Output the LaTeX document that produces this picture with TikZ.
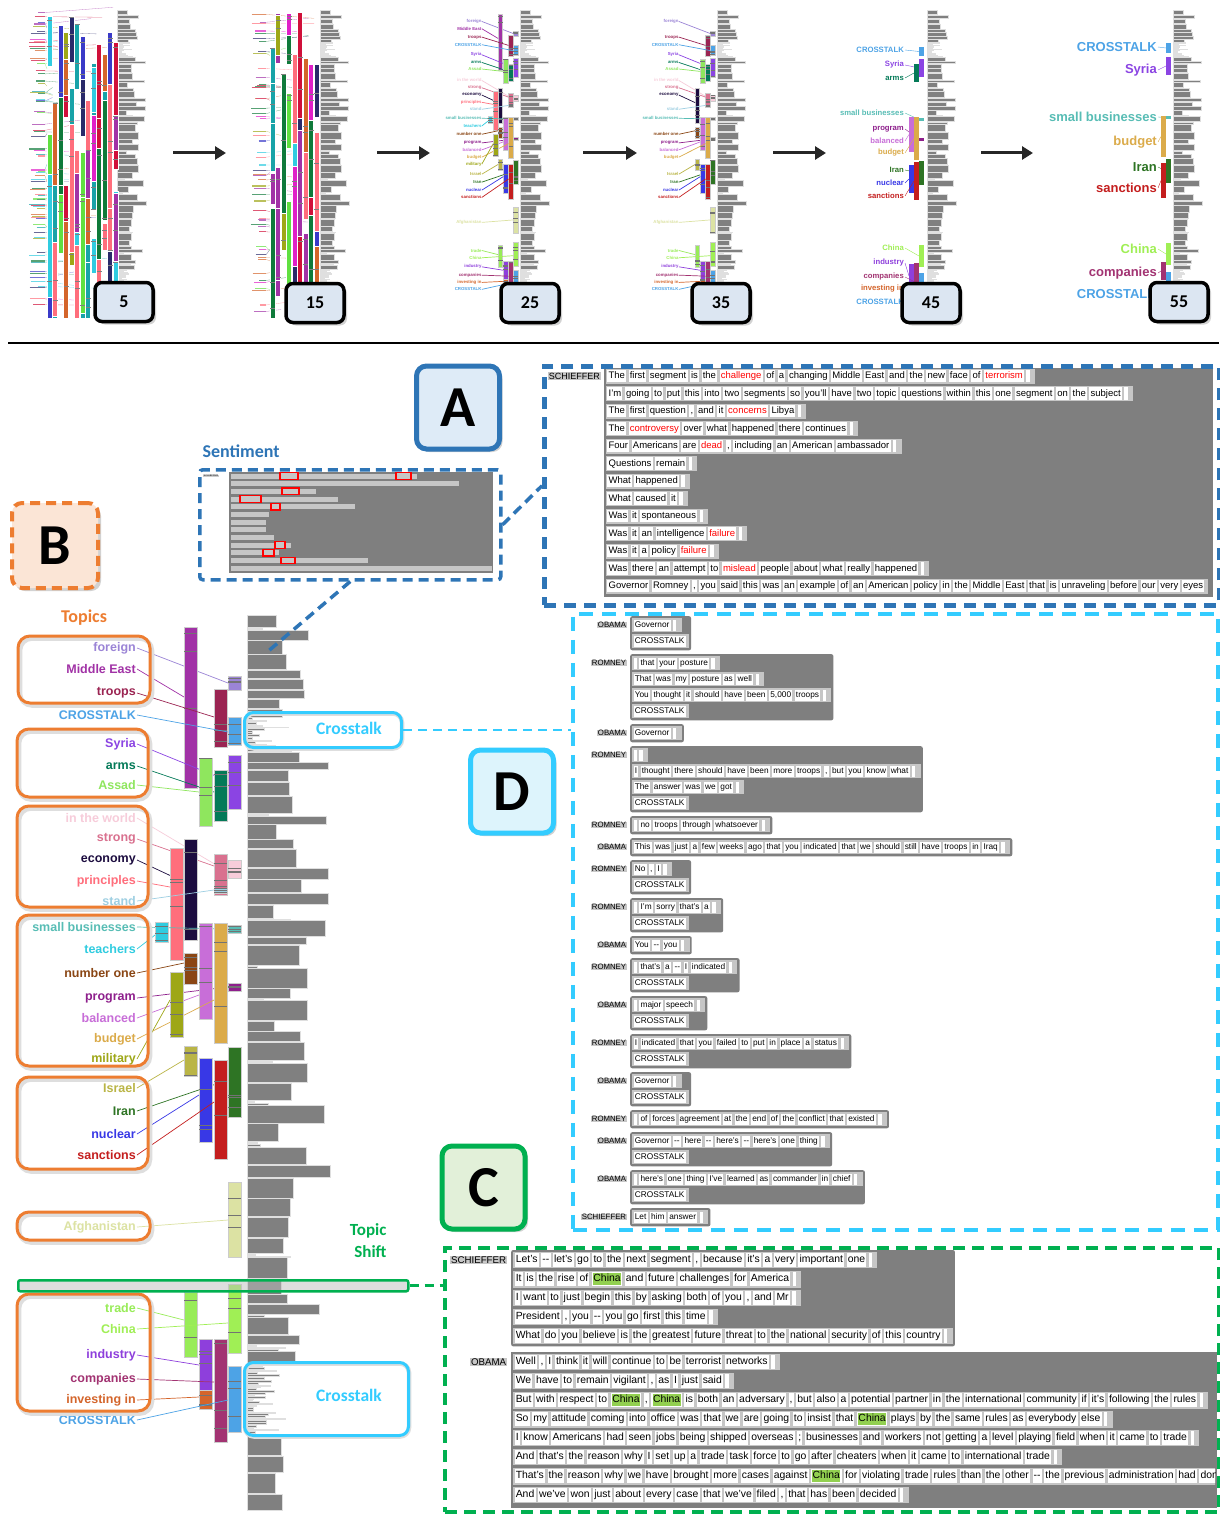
\documentclass[tikz,border=0pt]{standalone}
\usepackage{fontspec}
\setmainfont{Liberation Sans}
\newfontfamily\calfont{Carlito}
\usepackage{tikz}
\usetikzlibrary{arrows.meta,positioning,fit,shapes,shadows}

% topic colours
\definecolor{cforeign}{HTML}{9B84D6}
\definecolor{cmideast}{HTML}{A132A6}
\definecolor{ctroops}{HTML}{9B2452}
\definecolor{ccross}{HTML}{4DA3E6}
\definecolor{csyria}{HTML}{8B44E3}
\definecolor{carms}{HTML}{047A58}
\definecolor{cassad}{HTML}{8FE65E}
\definecolor{cworld}{HTML}{F7CCDA}
\definecolor{cstrong}{HTML}{D9718F}
\definecolor{cecon}{HTML}{1C0C3F}
\definecolor{cprinc}{HTML}{FF6E7C}
\definecolor{cstand}{HTML}{9ECFE2}
\definecolor{csmall}{HTML}{58BDB5}
\definecolor{cteach}{HTML}{30CCE0}
\definecolor{cnumone}{HTML}{8A4614}
\definecolor{cprog}{HTML}{8E1F8C}
\definecolor{cbal}{HTML}{C86ED8}
\definecolor{cbudget}{HTML}{DBAB4A}
\definecolor{cmil}{HTML}{9EA717}
\definecolor{cisrael}{HTML}{BAB546}
\definecolor{ciran}{HTML}{2E7424}
\definecolor{cnuc}{HTML}{3838E6}
\definecolor{csanc}{HTML}{C41E1E}
\definecolor{cafg}{HTML}{DCE2A3}
\definecolor{ctrade}{HTML}{98EC58}
\definecolor{cchina}{HTML}{A0EF55}
\definecolor{cind}{HTML}{8E3FDC}
\definecolor{ccomp}{HTML}{A23372}
\definecolor{cinvest}{HTML}{D4652B}
% palette for the crowded low levels
\definecolor{pal1}{HTML}{A132A6}
\definecolor{pal2}{HTML}{0F7A3A}
\definecolor{pal3}{HTML}{D0103A}
\definecolor{pal4}{HTML}{3A3AC8}
\definecolor{pal5}{HTML}{18A3A8}
\definecolor{pal6}{HTML}{E020C8}
\definecolor{pal7}{HTML}{9EA717}
\definecolor{pal8}{HTML}{2A2A6A}
\definecolor{pal9}{HTML}{D4652B}
\definecolor{pal10}{HTML}{FF6E7C}
\definecolor{pal11}{HTML}{30CCE0}
\definecolor{pal12}{HTML}{60E040}
% frames and fills
\definecolor{turngray}{HTML}{7F7F7F}
\definecolor{linebg}{HTML}{C6C6C6}
\definecolor{barfill}{HTML}{808080}
\definecolor{chinagreen}{HTML}{92D050}
\definecolor{bluefr}{HTML}{2E75B6}
\definecolor{cyanfr}{HTML}{33CCFF}
\definecolor{greenfr}{HTML}{00B050}
\definecolor{orangefr}{HTML}{ED7D31}
\definecolor{numfill}{HTML}{DCE6F2}
\definecolor{afill}{HTML}{DEEBF7}
\definecolor{bfill}{HTML}{FBE5D6}
\definecolor{cfill}{HTML}{E2F0D9}
\definecolor{dfill}{HTML}{DDF4FC}

% transcript word boxes
\newcommand\wstrut{\vrule height.8em depth.27em width0pt}
\newcommand\wb[1]{{\fboxsep=1.2pt\colorbox{white}{\wstrut#1}}}
\def\ws#1{\wsx#1 \wsend}
\def\wsx#1 #2\wsend{\wb{#1}\if\relax\detokenize{#2}\relax\else\hspace{2.4pt}\wsx#2\wsend\fi}
\newcommand\trail{\hspace{2.4pt}\wb{\hspace{1pt}}\hspace{4pt}}
\newcommand\tline[1]{{\fboxsep=1.2pt\colorbox{linebg}{\ws{#1}\trail}}}
\newcommand\xline[1]{{\fboxsep=1.2pt\colorbox{linebg}{\ws{#1}\hspace{2pt}}}}
\newcommand\rw[1]{\textcolor{red}{#1}}
\newcommand\cn[1]{{\fboxsep=0.5pt\colorbox{chinagreen}{\wstrut#1}}}
\newcommand\sliv{\hspace{1pt}}

% gray column of the transcript (local frame, 893 high)
\newcommand\graycol{%
  \pgfmathsetseed{2012}%
  \def\gy{0}%
  \loop
    \pgfmathsetmacro\gr{rnd}%
    \pgfmathsetmacro\gct{((\gy>96)&&(\gy<131))||((\gy>746)&&(\gy<819))}%
    \ifdim\gct pt>0.5pt
      \pgfmathsetmacro\gh{0.7+1.5*rnd}%
      \pgfmathsetmacro\gw{5+40*rnd*rnd}%
    \else\ifdim\gr pt<0.3pt
      \pgfmathsetmacro\gh{0.7+1.6*rnd}%
      \pgfmathsetmacro\gw{5+40*rnd}%
    \else\ifdim\gr pt<0.9pt
      \pgfmathsetmacro\gh{7+14*rnd}%
      \pgfmathsetmacro\gw{26+36*rnd}%
    \else
      \pgfmathsetmacro\gh{6+12*rnd}%
      \pgfmathsetmacro\gw{60+26*rnd}%
    \fi\fi\fi
    \fill[colbar] (0,\gy) rectangle ++(\gw,\gh);
    \pgfmathsetmacro\gy{\gy+\gh+0.6}%
  \ifdim\gy pt<890pt\repeat}

% topic bars, labels and leader lines (B coordinates), #1 = lowest level shown
\newcommand\topicview[1]{%
  \foreach \tpY/\tpN/\tpC/\tpX/\tpA/\tpB/\tpT/\tpV in {
    648/foreign/cforeign/228/676/690/683/2,
    669/Middle East/cmideast/184/627/788/697/1,
    693/troops/ctroops/214/689/747/717/2,
    715/CROSSTALK/ccross/228/717/745/732/4,
    744/Syria/csyria/228/755/809/781/4,
    766/arms/carms/214/770/821/792/3,
    785/Assad/cassad/199/758/826/792/2,
    818/in the world/cworld/228/860/878/872/2,
    839/strong/cstrong/214/854/895/866/2,
    860/economy/cecon/184/839/940/882/2,
    881/principles/cprinc/170/848/960/887/1,
    901/stand/cstand/214/888/893/890/2,
    927/small businesses/csmall/228/925/933/929/4,
    949/teachers/cteach/155/922/942/935/1,
    973/number one/cnumone/184/953/984/963/2,
    998/program/cprog/228/983/991/987/3,
    1018/balanced/cbal/199/923/1019/995/3,
    1039/budget/cbudget/214/923/1043/1000/4,
    1059/military/cmil/170/972/1037/1000/1,
    1088/Israel/cisrael/184/1046/1076/1060/2,
    1111/Iran/ciran/228/1047/1117/1080/4,
    1134/nuclear/cnuc/199/1058/1142/1095/3,
    1155/sanctions/csanc/214/1060/1159/1102/4,
    1227/Afghanistan/cafg/228/1182/1257/1220/2,
    1308/trade/ctrade/184/1292/1357/1320/2,
    1329/China/cchina/228/1284/1353/1323/4,
    1355/industry/cind/199/1339/1390/1365/3,
    1379/companies/ccomp/214/1339/1442/1382/4,
    1400/investing in/cinvest/199/1390/1409/1397/3,
    1420/CROSSTALK/ccross/228/1366/1432/1400/4}{%
    \ifnum\tpV<#1\relax\else
      \filldraw[topicbar, fill=\tpC] (\tpX,\tpA) rectangle ++(13,\tpB-\tpA);
      \foreach \q in {1,2,3}
        \draw[black!55, line width=0.6pt] (\tpX,{\tpA+(\tpB-\tpA)*rnd}) -- ++(13,0);
      \node[topiclabel, text=\tpC] (tl) at (137,\tpY) {\tpN};
      \draw[\tpC, line width=0.7pt] (tl.east) -- (\tpX,\tpT);
    \fi}}

% crowded views: #1 seed, #2 first bar x, #3 columns, #4 label edge, #5 labels, #6 bars per column
\newcommand\messview[6]{%
  \pgfmathsetseed{#1}%
  \foreach \ml in {1,...,#5}{%
    \pgfmathsetmacro\my{12+300*rnd}%
    \pgfmathtruncatemacro\mi{1+int(11.99*rnd)}%
    \pgfmathsetmacro\mw{6+10*rnd}%
    \draw[pal\mi!70, line width=1.1pt] (#4-\mw,\my) -- (#4,\my);
    \draw[pal\mi!60, line width=0.3pt] (#4,\my) -- ({#2+5.5*int(rnd*#3)},{\my+12*rnd-6});
  }%
  \foreach \mc in {1,...,#3}{%
    \foreach \mk in {1,...,#6}{%
      \pgfmathsetmacro\my{12+250*rnd}%
      \pgfmathsetmacro\mh{min(25+120*rnd,318-\my)}%
      \pgfmathtruncatemacro\mi{1+int(11.99*rnd)}%
      \filldraw[fill=pal\mi, draw=white, line width=0.3pt] ({#2+5.5*(\mc-1)},\my) rectangle ++(5,\mh);
      \foreach \q in {1,2}
        \draw[black!50, line width=0.4pt] ({#2+5.5*(\mc-1)},{\my+\mh*rnd}) -- ++(5,0);
    }}}

\tikzset{
  colbar/.style={fill=barfill, draw=white!75!gray, line width=0.4pt},
  topicbar/.style={draw=white!80!black, line width=0.4pt},
  topiclabel/.style={anchor=east, inner sep=1pt, font=\bfseries\fontsize{12.5}{14}\selectfont},
  groupbox/.style={draw=orangefr, line width=3pt, rounded corners=12pt},
  groupshade/.style={draw=black!13, line width=4.5pt, rounded corners=12pt},
  ctbox/.style={anchor=north west, inner sep=0pt, draw=cyanfr, line width=3pt, rounded corners=9pt},
  ctlabel/.style={text=cyanfr, font=\calfont\bfseries\fontsize{17.5}{20}\selectfont},
  numbox/.style={draw=black, line width=3.5pt, fill=numfill, rounded corners=7pt,
    minimum width=58pt, minimum height=39pt, font=\calfont\bfseries\fontsize{18}{18}\selectfont,
    drop shadow={opacity=0.35, shadow xshift=3pt, shadow yshift=-3pt}},
  bigarrow/.style={line width=3pt, draw=black!85, -{Triangle[length=11pt,width=13pt]}},
  letterbox/.style={line width=5pt, rounded corners=10pt, minimum width=83pt, minimum height=83pt,
    font=\calfont\bfseries\fontsize{58}{58}\selectfont,
    drop shadow={opacity=0.35, shadow xshift=3pt, shadow yshift=-3pt}},
  panel/.style={anchor=north west, inner sep=0pt},
  turn/.style={anchor=north west, fill=turngray, rounded corners=2pt, inner sep=2.2pt, align=left},
  speaker/.style={anchor=east, fill=black!22, inner sep=0.7pt},
  heading/.style={font=\calfont\bfseries\fontsize{18}{20}\selectfont}
}

\begin{document}
\begin{tikzpicture}[x=1pt, y=-1pt]
\useasboundingbox (0,0) rectangle (1219,1514);
\fill[white] (0,0) rectangle (1219,1514);

% ---------- top strip: the topic view at growing levels ----------
% level 5
\begin{scope}[shift={(117,10)}, scale=0.347]\graycol\end{scope}
\messview{105}{47}{13}{45}{80}{5}
\node[numbox] (n5) at (124,302) {5};
% level 15
\begin{scope}[shift={(320,10)}, scale=0.347]\graycol\end{scope}
\messview{115}{270}{9}{266}{55}{4}
\node[numbox] (n15) at (315,303) {15};
% level 25
\begin{scope}[shift={(520,10)}, scale=0.347]\graycol\end{scope}
\begin{scope}[shift={(434.3,-203.4)}, scale=0.347, transform shape]\topicview{1}\end{scope}
\node[numbox] (n25) at (530,303) {25};
% level 35
\begin{scope}[shift={(717,10)}, scale=0.347]\graycol\end{scope}
\begin{scope}[shift={(631.3,-203.4)}, scale=0.347, transform shape]\topicview{2}\end{scope}
\node[numbox] (n35) at (721,303) {35};
% level 45
\begin{scope}[shift={(927,10)}, scale=0.347]\graycol\end{scope}
\foreach \sy/\sn/\sc/\sx/\sa/\sb in {50/CROSSTALK/ccross/919/47/56, 65/Syria/csyria/919/59/77,
    78/arms/carms/914/64/82, 113/small businesses/csmall/919/118/121, 129/program/cprog/919/138/141,
    141/balanced/cbal/909/117/152, 153/budget/cbudget/914/117/160, 170/Iran/ciran/919/161/185,
    183/nuclear/cnuc/909/165/193, 196/sanctions/csanc/914/162/200, 248/China/cchina/919/245/267,
    263/industry/cind/909/264/288, 277/companies/ccomp/914/263/300, 289/investing in/cinvest/909/288/296,
    302/CROSSTALK/ccross/919/273/300}{
  \fill[\sc] (\sx,\sa) rectangle ++(5,\sb-\sa);
  \node[topiclabel, text=\sc, font=\bfseries\fontsize{7.7}{9}\selectfont] (t45) at (905,\sy) {\sn};
  \draw[\sc, line width=0.4pt] (t45.east) -- (\sx,{(\sa+\sb)/2});
}
\node[numbox] (n45) at (931,303) {45};
% level 55
\begin{scope}[shift={(1173,10)}, scale=0.347]\graycol\end{scope}
\foreach \sy/\sn/\sc/\sx/\sa/\sb in {47/CROSSTALK/ccross/1166/43/53, 70/Syria/csyria/1166/57/75,
    117/small businesses/csmall/1166/116/119, 142/budget/cbudget/1161/116/157,
    167/Iran/ciran/1166/159/183, 188/sanctions/csanc/1161/163/198, 249/China/cchina/1166/243/265,
    273/companies/ccomp/1161/262/280, 294/CROSSTALK/ccross/1166/272/292}{
  \fill[\sc] (\sx,\sa) rectangle ++(5,\sb-\sa);
  \node[topiclabel, text=\sc, font=\bfseries\fontsize{13}{15}\selectfont] (t55) at (1158,\sy) {\sn};
  \draw[\sc, line width=0.4pt] (t55.east) -- (\sx,{(\sa+\sb)/2});
}
\node[numbox] (n55) at (1179,302) {55};

% arrows between the levels
\coordinate (ar1a) at (173,153); \coordinate (ar1b) at (226,153);
\coordinate (ar2a) at (377,153); \coordinate (ar2b) at (430,153);
\coordinate (ar3a) at (583,153); \coordinate (ar3b) at (637,153);
\coordinate (ar4a) at (773,153); \coordinate (ar4b) at (826,153);
\coordinate (ar5a) at (981,153); \coordinate (ar5b) at (1033,153);
\foreach \i in {1,...,5}
  \draw[bigarrow] (ar\i a) -- (ar\i b);

% divider
\draw[line width=2.5pt] (8,343) -- (1219,343);

% ---------- B: topic view ----------
\node[heading, text=orangefr] (topics) at (84,618) {Topics};
\begin{scope}[shift={(247,615)}]\graycol\end{scope}
\topicview{1}
\foreach \ga/\gb/\gc/\gd in {18/636/150/703, 17/729/148/797, 17/806/148/907, 17/915/148/1066,
    17/1077/148/1169, 17/1212/150/1240, 17/1294/150/1411}{
  \draw[groupshade] (\ga+2,\gb+2.5) rectangle (\gc+2,\gd+2.5);
  \draw[groupbox] (\ga,\gb) rectangle (\gc,\gd);
}
% crosstalk call-outs
\draw[groupshade, rounded corners=9pt] (245,713.5) rectangle (402,748.5);
\node[ctbox, minimum width=157pt, minimum height=35pt] (ct1) at (243,711) {};
\node[ctlabel] (ct1t) at (349,728) {Crosstalk};
\draw[groupshade, rounded corners=9pt] (245,1363.5) rectangle (409,1436.5);
\node[ctbox, minimum width=164pt, minimum height=73pt] (ct2) at (243,1361) {};
\node[ctlabel] (ct2t) at (349,1395) {Crosstalk};
% topic shift
\node[panel, draw=greenfr, line width=2.5pt, fill=black!25, fill opacity=0.5, rounded corners=2pt,
  minimum width=390pt, minimum height=11pt] (tshift) at (17,1279) {};
\node[heading, text=greenfr, align=right, anchor=east, font=\calfont\bfseries\fontsize{17}{22}\selectfont]
  (tshiftt) at (390,1241) {Topic\\Shift};

\node[letterbox, draw=orangefr, dash pattern=on 10pt off 6pt, line width=4pt, fill=bfill,
  minimum width=86pt, minimum height=85pt] (lb) at (55,545.5) {B};

% ---------- A: sentiment ----------
\node[heading, text=bluefr, anchor=west] (senth) at (199,451) {Sentiment};
\node[panel, draw=bluefr, line width=3.5pt, dash pattern=on 10pt off 6pt, fill=white,
  minimum width=301pt, minimum height=110pt, rounded corners=3pt] (sent) at (198,468) {};
\fill[turngray] (229,472) rectangle (493,573);
\node[font=\fontsize{2.6}{3}\selectfont, fill=black!20, inner sep=0.4pt, anchor=west] (sentsp) at (203,476) {SCHIEFFER};
\foreach \r/\e in {0/417,1/459,2/316,3/338,4/355,5/269,6/266,7/266,8/274,9/291,10/279,11/368,12/492}
  \fill[linebg] (231,{473.5+7.67*\r}) rectangle (\e,{478.5+7.67*\r});
\foreach \r/\a/\b in {0/280/298,0/396/411,2/282/299,3/240/261,4/271/280,9/275/285,10/263/274,11/281/295}
  \draw[red, line width=1.3pt, fill=linebg] (\a,{472.8+7.67*\r}) rectangle (\b,{479.2+7.67*\r});

\node[letterbox, draw=bluefr, fill=afill] (la) at (458,407.5) {A};

% transcript of the sentiment panel
\node[speaker, anchor=west, font=\fontsize{9}{10}\selectfont] (spa) at (548,376) {SCHIEFFER};
\fill[turngray] (604,368) rectangle (1213,597);
\node[anchor=north west, inner sep=0pt, align=left, font=\fontsize{9.5}{17.5}\selectfont] (ta) at (606,368.5) {%
\tline{The first segment is the \rw{challenge} of a changing Middle East and the new face of \rw{terrorism}}\\
\tline{I'm going to put this into two segments so you'll have two topic questions within this one segment on the subject}\\
\tline{The first question , and it \rw{concerns} Libya}\\
\tline{The \rw{controversy} over what happened there continues}\\
\tline{Four Americans are \rw{dead} , including an American ambassador}\\
\tline{Questions remain}\\
\tline{What happened}\\
\tline{What caused it}\\
\tline{Was it spontaneous}\\
\tline{Was it an intelligence \rw{failure}}\\
\tline{Was it a policy \rw{failure}}\\
\tline{Was there an attempt to \rw{mislead} people about what really happened}\\
\xline{Governor Romney , you said this was an example of an American policy in the Middle East that is unraveling before our very eyes}};

% ---------- D: crosstalk ----------
\begin{scope}[turn/.append style={font=\fontsize{8.3}{16}\selectfont},
              speaker/.append style={font=\fontsize{7.8}{9}\selectfont}]
\node[speaker] (s1) at (627,625) {OBAMA};
\node[turn] (d1) at (630,616) {\tline{Governor}\\ \xline{CROSSTALK}};
\node[speaker] (s2) at (627,663) {ROMNEY};
\node[turn] (d2) at (630,654) {\tline{\sliv{} that your posture}\\ \tline{That was my posture as well}\\
  \tline{You thought it should have been 5,000 troops}\\ \xline{CROSSTALK}};
\node[speaker] (s3) at (627,733) {OBAMA};
\node[turn] (d3) at (630,724) {\tline{Governor}};
\node[speaker] (s4) at (627,755) {ROMNEY};
\node[turn] (d4) at (630,746) {\tline{\sliv{}}\\ \tline{I thought there should have been more troops , but you know what}\\
  \tline{The answer was we got}\\ \xline{CROSSTALK}};
\node[speaker] (s5) at (627,825) {ROMNEY};
\node[turn] (d5) at (630,816) {\tline{\sliv{} no troops through whatsoever}};
\node[speaker] (s6) at (627,847) {OBAMA};
\node[turn] (d6) at (630,838) {\tline{This was just a few weeks ago that you indicated that we should still have troops in Iraq}};
\node[speaker] (s7) at (627,869) {ROMNEY};
\node[turn] (d7) at (630,860) {\tline{No , I}\\ \xline{CROSSTALK}};
\node[speaker] (s8) at (627,907) {ROMNEY};
\node[turn] (d8) at (630,898) {\tline{\sliv{} I'm sorry that's a}\\ \xline{CROSSTALK}};
\node[speaker] (s9) at (627,945) {OBAMA};
\node[turn] (d9) at (630,936) {\tline{You -{}- you}};
\node[speaker] (s10) at (627,967) {ROMNEY};
\node[turn] (d10) at (630,958) {\tline{\sliv{} that's a -{}- I indicated}\\ \xline{CROSSTALK}};
\node[speaker] (s11) at (627,1005) {OBAMA};
\node[turn] (d11) at (630,996) {\tline{\sliv{} major speech}\\ \xline{CROSSTALK}};
\node[speaker] (s12) at (627,1043) {ROMNEY};
\node[turn] (d12) at (630,1034) {\tline{I indicated that you failed to put in place a status}\\ \xline{CROSSTALK}};
\node[speaker] (s13) at (627,1081) {OBAMA};
\node[turn] (d13) at (630,1072) {\tline{Governor}\\ \xline{CROSSTALK}};
\node[speaker] (s14) at (627,1119) {ROMNEY};
\node[turn] (d14) at (630,1110) {\tline{\sliv{} of forces agreement at the end of the conflict that existed}};
\node[speaker] (s15) at (627,1141) {OBAMA};
\node[turn] (d15) at (630,1132) {\tline{Governor -{}- here -{}- here's -{}- here's one thing}\\ \xline{CROSSTALK}};
\node[speaker] (s16) at (627,1179) {OBAMA};
\node[turn] (d16) at (630,1170) {\tline{\sliv{} here's one thing I've learned as commander in chief}\\ \xline{CROSSTALK}};
\node[speaker] (s17) at (627,1217) {SCHIEFFER};
\node[turn] (d17) at (630,1208) {\tline{Let him answer}};
\end{scope}

\node[letterbox, draw=cyanfr, fill=dfill] (ld) at (512,791.5) {D};

% ---------- C: topic shift ----------
\begin{scope}[turn/.append style={font=\fontsize{10.4}{19}\selectfont},
              speaker/.append style={font=\fontsize{9.7}{11}\selectfont}]
\node[speaker] (c1s) at (507,1260) {SCHIEFFER};
\node[turn] (c1) at (511,1249.8) {%
\tline{Let's -{}- let's go to the next segment , because it's a very important one}\\
\tline{It is the rise of \cn{China} and future challenges for America}\\
\tline{I want to just begin this by asking both of you , and Mr}\\
\tline{President , you -{}- you go first this time}\\
\tline{What do you believe is the greatest future threat to the national security of this country}};
\node[speaker] (c2s) at (507,1362) {OBAMA};
\fill[turngray] (511,1352) rectangle (1217,1508);
\begin{scope}
\clip (444,1247) rectangle (1215,1509);
\node[turn, fill=none] (c2) at (511,1351.8) {%
\tline{Well , I think it will continue to be terrorist networks}\\
\tline{We have to remain vigilant , as I just said}\\
\tline{But with respect to \cn{China} , \cn{China} is both an adversary , but also a potential partner in the international community if it's following the rules}\\
\tline{So my attitude coming into office was that we are going to insist that \cn{China} plays by the same rules as everybody else}\\
\tline{I know Americans had seen jobs being shipped overseas ; businesses and workers not getting a level playing field when it came to trade}\\
\tline{And that's the reason why I set up a trade task force to go after cheaters when it came to international trade}\\
\tline{That's the reason why we have brought more cases against \cn{China} for violating trade rules than the other -{}- the previous administration had done}\\
\tline{And we've won just about every case that we've filed , that has been decided}};
\end{scope}
\end{scope}

\node[letterbox, draw=greenfr, fill=cfill] (lc) at (483.5,1187.5) {C};

% ---------- frames and links ----------
\node[panel, draw=bluefr, line width=4.5pt, dash pattern=on 12pt off 8pt,
  minimum width=675pt, minimum height=239pt] (pA) at (542,364) {};
\node[panel, draw=cyanfr, line width=3.5pt, dash pattern=on 14pt off 9pt,
  minimum width=645pt, minimum height=616pt] (pD) at (571,612) {};
\node[panel, draw=greenfr, line width=4pt, dash pattern=on 12pt off 7pt,
  minimum width=774pt, minimum height=264pt] (pC) at (443,1246) {};

\coordinate (colA) at (266,653);
\draw[bluefr, line width=3.5pt, dash pattern=on 10pt off 6pt] (sent.east) -- (pA.west);
\draw[bluefr, line width=3.5pt, dash pattern=on 10pt off 6pt] (sent.south) -- (colA);
\draw[cyanfr, line width=2.5pt, dash pattern=on 9pt off 6pt] (ct1.east) -- (ct1.east -| pD.west);
\draw[greenfr, line width=3pt, dash pattern=on 9pt off 6pt] (tshift.east) -- (tshift.east -| pC.west);
\end{tikzpicture}
\end{document}
